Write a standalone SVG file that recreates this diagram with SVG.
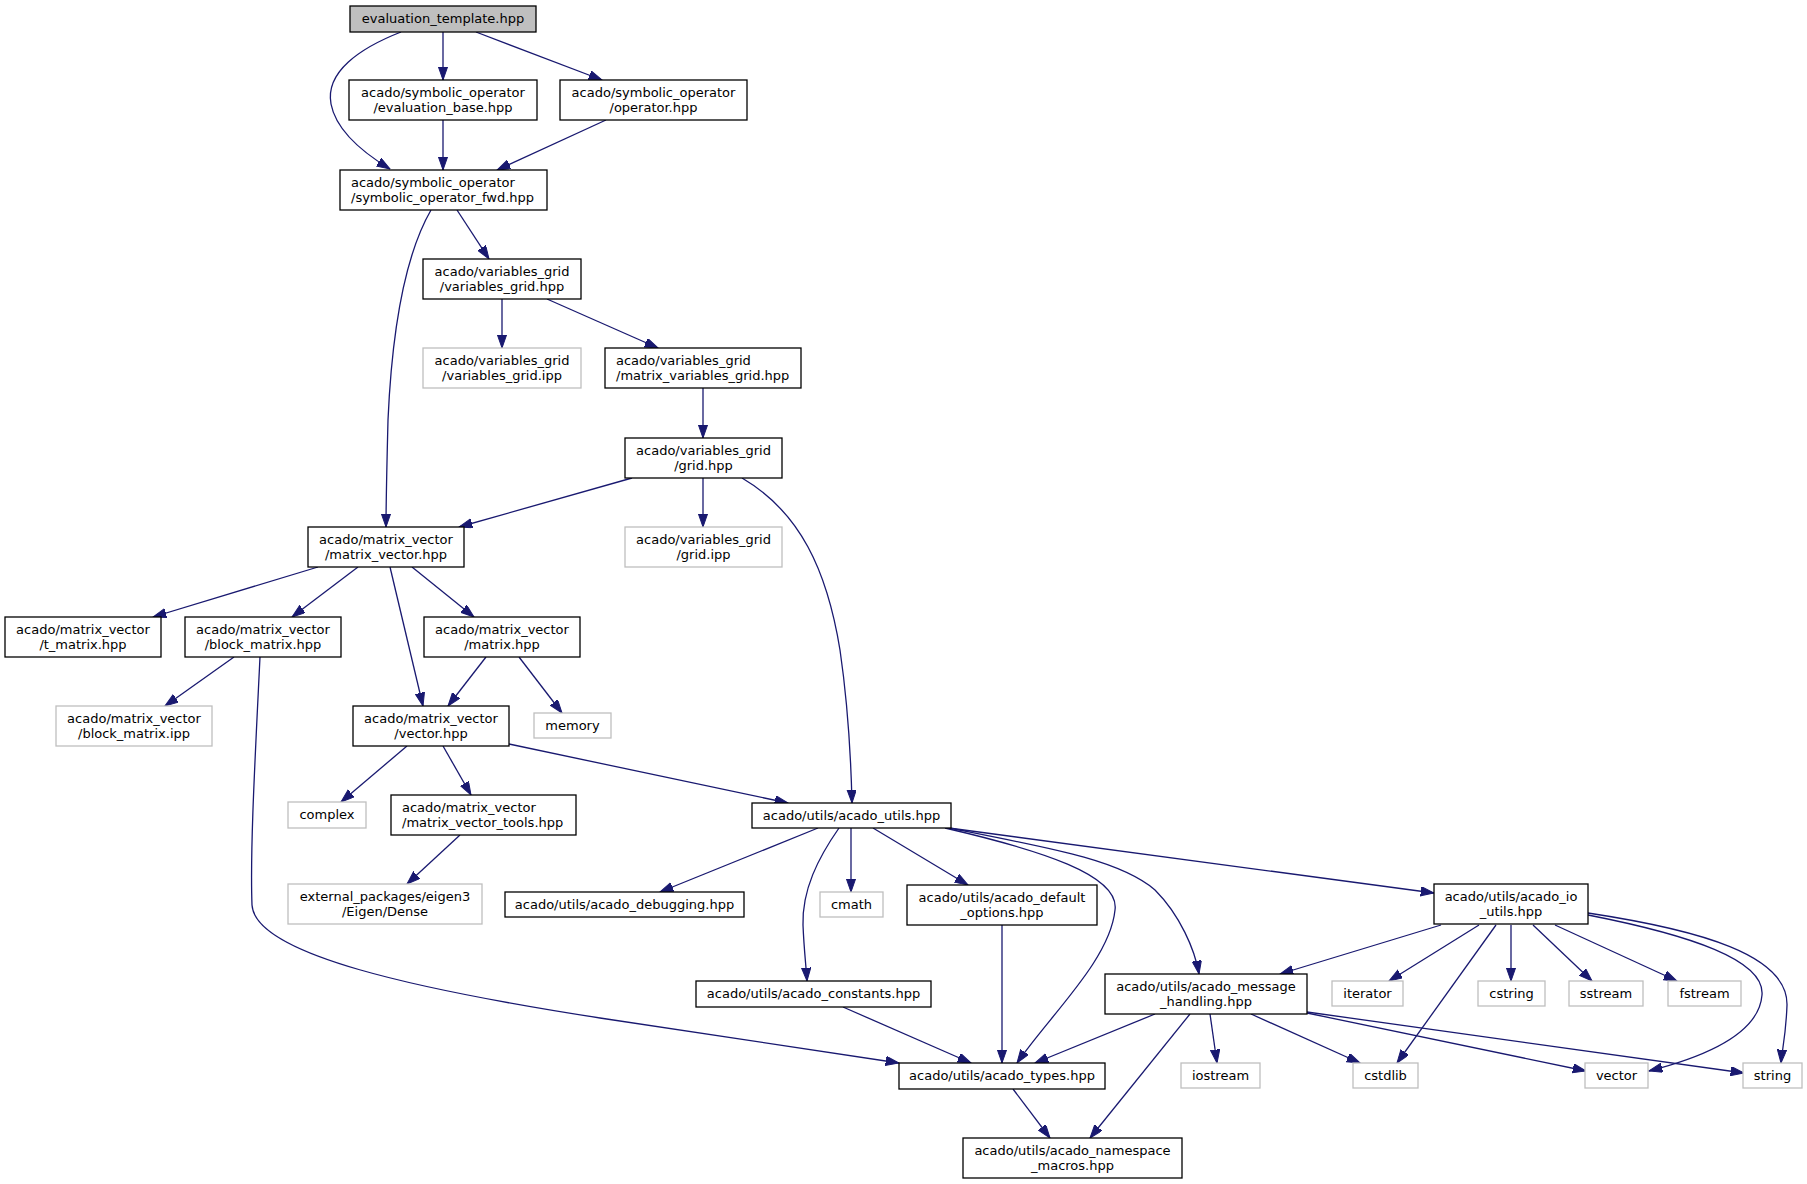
<svg xmlns="http://www.w3.org/2000/svg" width="1807" height="1184" viewBox="0 0 1807 1184">
<defs>
<marker id="a" markerUnits="userSpaceOnUse" markerWidth="14" markerHeight="10" refX="13.3" refY="4.67" orient="auto">
<path d="M0,0 L13.3,4.67 L0,9.33 Z" fill="#191970" stroke="#191970" stroke-width="1"/>
</marker>
<style>
rect{fill:#ffffff;stroke:#000000;stroke-width:1.3}
.g rect{stroke:#bfbfbf}
.root rect{fill:#bfbfbf}
text{font-family:"DejaVu Sans","Liberation Sans",sans-serif;font-size:13px;fill:#000000;text-anchor:middle}
text.l{text-anchor:start}
#edges path{fill:none;stroke:#191970;stroke-width:1.3;marker-end:url(#a)}
</style>
</defs>
<rect x="0" y="0" width="1807" height="1184" style="fill:#ffffff;stroke:none"/>
<g id="edges">
<path d="M443,32 L443,80"/>
<path d="M476,32 L602,80"/>
<path d="M401,32 C360,48 325,72 331,104 C336,130 362,152 390,169"/>
<path d="M443,120 L443,170"/>
<path d="M606,120 L497,170"/>
<path d="M457,210 L489,259"/>
<path d="M431,210 C405,255 392,330 388,420 C387,460 386,500 386,527"/>
<path d="M502,299 L502,348"/>
<path d="M547,299 L658,348"/>
<path d="M703,388 L703,438"/>
<path d="M703,478 L703,527"/>
<path d="M632,478 L459,527"/>
<path d="M742,478 C800,512 827,570 840,650 C848,705 851,760 852,803"/>
<path d="M318,567 L153,617"/>
<path d="M358,567 L292,617"/>
<path d="M390,567 L423,706"/>
<path d="M412,567 L474,617"/>
<path d="M234,657 L165,706"/>
<path d="M260,657 C255,760 250,850 252,905 C255,955 420,990 600,1018 C720,1036 830,1052 899,1063"/>
<path d="M486,657 L448,706"/>
<path d="M519,657 L562,713"/>
<path d="M407,746 L341,802"/>
<path d="M443,746 L471,795"/>
<path d="M509,744 L788,803"/>
<path d="M460,835 L407,884"/>
<path d="M818,828 L660,892"/>
<path d="M839,828 C818,858 802,890 803,925 C804,950 806,965 807,981"/>
<path d="M851,828 L851,892"/>
<path d="M873,828 L968,885"/>
<path d="M945,828 C1040,850 1120,875 1115,910 C1110,960 1050,1015 1017,1063"/>
<path d="M949,828 C1050,848 1120,860 1155,890 C1180,915 1195,950 1199,974"/>
<path d="M949,828 L1434,893"/>
<path d="M1002,925 L1002,1063"/>
<path d="M843,1007 L971,1063"/>
<path d="M1155,1014 L1035,1063"/>
<path d="M1190,1014 L1090,1138"/>
<path d="M1210,1014 L1217,1063"/>
<path d="M1251,1014 L1360,1063"/>
<path d="M1307,1013 L1586,1071"/>
<path d="M1307,1012 L1744,1073"/>
<path d="M1013,1089 L1050,1138"/>
<path d="M1441,925 L1280,974"/>
<path d="M1479,925 L1389,981"/>
<path d="M1496,925 L1397,1063"/>
<path d="M1511,925 L1511,981"/>
<path d="M1533,925 L1592,981"/>
<path d="M1555,925 L1677,981"/>
<path d="M1588,915 C1690,935 1765,960 1762,995 C1759,1035 1700,1058 1649,1071"/>
<path d="M1588,913 C1700,930 1788,955 1787,1005 C1786,1035 1782,1050 1781,1063"/>
</g>
<g id="n1" class="root"><rect x="350" y="6" width="186" height="26"/><text x="443" y="23">evaluation_template.hpp</text></g>
<g id="n2"><rect x="349" y="80" width="188" height="40"/><text x="443" y="97">acado/symbolic_operator</text><text x="443" y="112">/evaluation_base.hpp</text></g>
<g id="n3"><rect x="560" y="80" width="187" height="40"/><text x="653.5" y="97">acado/symbolic_operator</text><text x="653.5" y="112">/operator.hpp</text></g>
<g id="n4"><rect x="340" y="170" width="207" height="40"/><text class="l" x="351" y="187">acado/symbolic_operator</text><text class="l" x="351" y="202">/symbolic_operator_fwd.hpp</text></g>
<g id="n5"><rect x="423" y="259" width="158" height="40"/><text x="502" y="276">acado/variables_grid</text><text x="502" y="291">/variables_grid.hpp</text></g>
<g id="n6" class="g"><rect x="423" y="348" width="158" height="40"/><text x="502" y="365">acado/variables_grid</text><text x="502" y="380">/variables_grid.ipp</text></g>
<g id="n7"><rect x="605" y="348" width="196" height="40"/><text class="l" x="616" y="365">acado/variables_grid</text><text class="l" x="616" y="380">/matrix_variables_grid.hpp</text></g>
<g id="n8"><rect x="625" y="438" width="157" height="40"/><text x="703.5" y="455">acado/variables_grid</text><text x="703.5" y="470">/grid.hpp</text></g>
<g id="n9" class="g"><rect x="625" y="527" width="157" height="40"/><text x="703.5" y="544">acado/variables_grid</text><text x="703.5" y="559">/grid.ipp</text></g>
<g id="n10"><rect x="308" y="527" width="156" height="40"/><text x="386" y="544">acado/matrix_vector</text><text x="386" y="559">/matrix_vector.hpp</text></g>
<g id="n11"><rect x="5" y="617" width="156" height="40"/><text x="83" y="634">acado/matrix_vector</text><text x="83" y="649">/t_matrix.hpp</text></g>
<g id="n12"><rect x="185" y="617" width="156" height="40"/><text x="263" y="634">acado/matrix_vector</text><text x="263" y="649">/block_matrix.hpp</text></g>
<g id="n13"><rect x="424" y="617" width="156" height="40"/><text x="502" y="634">acado/matrix_vector</text><text x="502" y="649">/matrix.hpp</text></g>
<g id="n14" class="g"><rect x="56" y="706" width="156" height="40"/><text x="134" y="723">acado/matrix_vector</text><text x="134" y="738">/block_matrix.ipp</text></g>
<g id="n15"><rect x="353" y="706" width="156" height="40"/><text x="431" y="723">acado/matrix_vector</text><text x="431" y="738">/vector.hpp</text></g>
<g id="n16" class="g"><rect x="534" y="713" width="77" height="25"/><text x="572.5" y="730">memory</text></g>
<g id="n17" class="g"><rect x="288" y="802" width="78" height="26"/><text x="327" y="819">complex</text></g>
<g id="n18"><rect x="391" y="795" width="185" height="40"/><text class="l" x="402" y="812">acado/matrix_vector</text><text class="l" x="402" y="827">/matrix_vector_tools.hpp</text></g>
<g id="n19" class="g"><rect x="288" y="884" width="194" height="40"/><text x="385" y="901">external_packages/eigen3</text><text x="385" y="916">/Eigen/Dense</text></g>
<g id="n20"><rect x="752" y="803" width="199" height="25"/><text x="851.5" y="820">acado/utils/acado_utils.hpp</text></g>
<g id="n21"><rect x="505" y="892" width="239" height="25"/><text x="624.5" y="909">acado/utils/acado_debugging.hpp</text></g>
<g id="n22" class="g"><rect x="820" y="892" width="63" height="25"/><text x="851.5" y="909">cmath</text></g>
<g id="n23"><rect x="907" y="885" width="190" height="40"/><text x="1002" y="902">acado/utils/acado_default</text><text x="1002" y="917">_options.hpp</text></g>
<g id="n24"><rect x="1434" y="884" width="154" height="40"/><text x="1511" y="901">acado/utils/acado_io</text><text x="1511" y="916">_utils.hpp</text></g>
<g id="n25"><rect x="696" y="981" width="235" height="26"/><text x="813.5" y="998">acado/utils/acado_constants.hpp</text></g>
<g id="n26"><rect x="1105" y="974" width="202" height="40"/><text x="1206" y="991">acado/utils/acado_message</text><text x="1206" y="1006">_handling.hpp</text></g>
<g id="n27" class="g"><rect x="1332" y="981" width="71" height="25"/><text x="1367.5" y="998">iterator</text></g>
<g id="n28" class="g"><rect x="1478" y="981" width="67" height="25"/><text x="1511.5" y="998">cstring</text></g>
<g id="n29" class="g"><rect x="1569" y="981" width="74" height="25"/><text x="1606" y="998">sstream</text></g>
<g id="n30" class="g"><rect x="1668" y="981" width="73" height="25"/><text x="1704.5" y="998">fstream</text></g>
<g id="n31"><rect x="899" y="1063" width="206" height="26"/><text x="1002" y="1080">acado/utils/acado_types.hpp</text></g>
<g id="n32" class="g"><rect x="1181" y="1063" width="79" height="25"/><text x="1220.5" y="1080">iostream</text></g>
<g id="n33" class="g"><rect x="1353" y="1063" width="65" height="25"/><text x="1385.5" y="1080">cstdlib</text></g>
<g id="n34" class="g"><rect x="1585" y="1063" width="63" height="25"/><text x="1616.5" y="1080">vector</text></g>
<g id="n35" class="g"><rect x="1743" y="1063" width="59" height="25"/><text x="1772.5" y="1080">string</text></g>
<g id="n36"><rect x="963" y="1138" width="219" height="40"/><text x="1072.5" y="1155">acado/utils/acado_namespace</text><text x="1072.5" y="1170">_macros.hpp</text></g>
</svg>
